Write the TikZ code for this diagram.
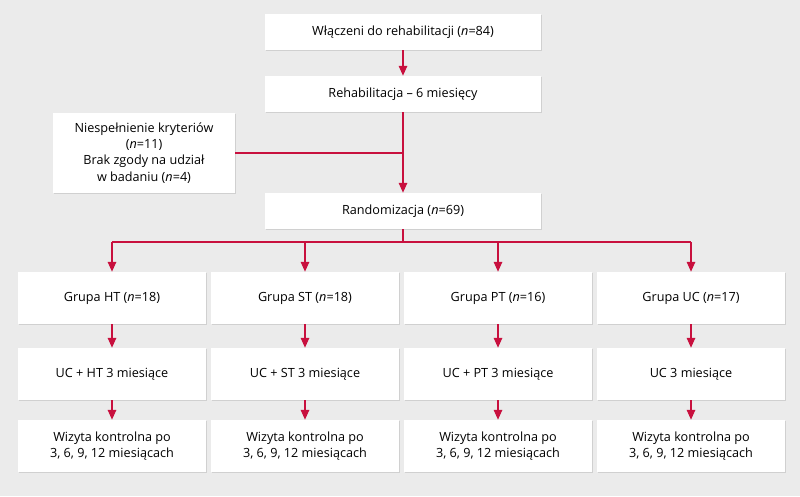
\documentclass[tikz,border=0pt]{standalone}
\usepackage{fontspec}
\setmainfont{Open Sans}
\usetikzlibrary{positioning, arrows.meta, shadows}
\definecolor{flowred}{HTML}{C8103E}
\definecolor{bggray}{HTML}{EBEBEB}

\begin{document}
\begin{tikzpicture}[
    on grid,
    font=\fontsize{9}{11.5}\selectfont,
    box/.style={fill=white, draw=none, align=center, minimum height=0.9cm,
        drop shadow={shadow xshift=0.6pt, shadow yshift=-0.8pt, opacity=0.25}},
    wide/.style={box, minimum width=6.9cm},
    group/.style={box, minimum width=4.7cm, minimum height=1.3cm},
    line/.style={draw=flowred, line width=1pt},
    arr/.style={line, -{Triangle[width=6pt, length=7pt]}}
]
   \fill[bggray] (0,0) rectangle (20,-12.4);
   \useasboundingbox (0,0) rectangle (20,-12.4);

   % Main column
   \node[wide] (incl) at (10.075,-0.8) {Włączeni do rehabilitacji (\textit{n}=84)};
   \node[wide] (rehab) [below=1.55cm of incl] {Rehabilitacja -- 6 miesięcy};
   \node[wide] (rand) [below=2.925cm of rehab] {Randomizacja (\textit{n}=69)};
   \node[box, minimum width=4.55cm, minimum height=2cm] (excl) at (3.6,-3.825)
        {Niespełnienie kryteriów\\(\textit{n}=11)\\Brak zgody na udział\\w badaniu (\textit{n}=4)};

   % Groups
   \node[group] (g1) at (2.8,-7.45) {Grupa HT (\textit{n}=18)};
   \node[group] (g2) [right=4.825cm of g1] {Grupa ST (\textit{n}=18)};
   \node[group] (g3) [right=4.825cm of g2] {Grupa PT (\textit{n}=16)};
   \node[group] (g4) [right=4.825cm of g3] {Grupa UC (\textit{n}=17)};

   \node[group] (t1) [below=1.9cm of g1] {UC + HT 3 miesiące};
   \node[group] (t2) [below=1.9cm of g2] {UC + ST 3 miesiące};
   \node[group] (t3) [below=1.9cm of g3] {UC + PT 3 miesiące};
   \node[group] (t4) [below=1.9cm of g4] {UC 3 miesiące};

   \foreach \i in {1,...,4}
      \node[group] (v\i) [below=1.8cm of t\i] {Wizyta kontrolna po\\3, 6, 9, 12 miesiącach};

   % Connectors
   \draw[arr] (incl) -- (rehab);
   \draw[arr] (rehab) -- (rand);
   \draw[line] (excl.east) -- (excl.east -| rand);
   \coordinate (split) at ([yshift=-0.32cm]rand.south);
   \draw[line] (rand) -- (split);
   \draw[line] (split -| g1) -- (split -| g4);
   \foreach \i in {1,...,4} {
      \draw[arr] (split -| g\i) -- (g\i);
      \draw[arr] (g\i) -- (t\i);
      \draw[arr] (t\i) -- (v\i);
   }
\end{tikzpicture}
\end{document}
